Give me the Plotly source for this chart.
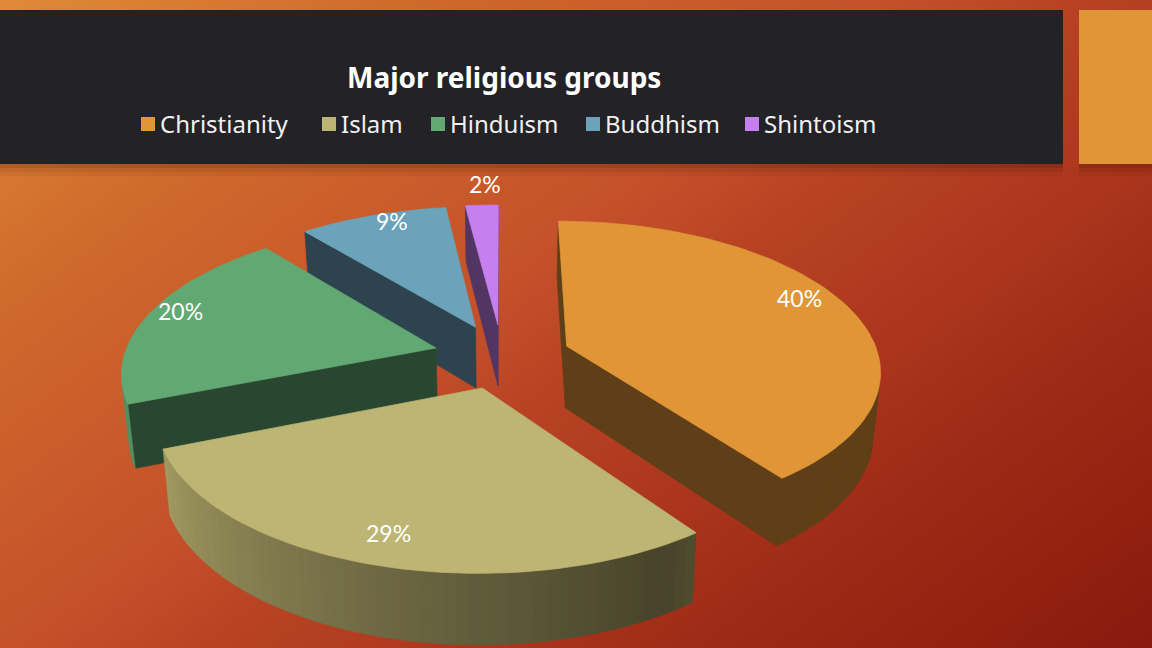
import base64
import numpy as np
import plotly.graph_objects as go

# data
categories = ["Christianity", "Islam", "Hinduism", "Buddhism", "Shintoism"]
values = [40, 29, 20, 9, 2]
colors = ["#E09637", "#BDB573", "#62A873", "#6BA3BA", "#C67FEF"]
title = "Major religious groups"

# tilted pie settings, in screen pixels
CX, CY = 502, 356
R = 312
TILT = 0.47
PERSP = 0.151
DEPTH = 62
TAPER = 0.02
EXPLODE = 0.22

# label and legend placement
label_pos = [(799, 298), (388, 533), (180, 311), (392, 221), (485, 184)]
legend_x = [148, 329, 438, 593, 752]
LEGEND_Y = 124

# wall shading against clockwise angle from the top
shade_deg = [0, 144, 150, 200, 248, 360]
shade_val = [0.42, 0.42, 0.37, 0.6, 0.85, 0.85]


def project(x, y, z):
    s = 1 / (1 - PERSP * y)
    t = 1 - TAPER * z
    return CX + R * x * s * t, CY + R * TILT * y * s * t + DEPTH * z * s


def darker(color, f):
    r, g, b = (int(color[i:i + 2], 16) for i in (1, 3, 5))
    return f"rgb({r * f:.0f},{g * f:.0f},{b * f:.0f})"


def area(pts):
    xs, ys = zip(*pts)
    return sum(xs[i] * ys[(i + 1) % len(xs)] - xs[(i + 1) % len(xs)] * ys[i] for i in range(len(xs)))


def poly(fig, pts, color):
    xs, ys = zip(*pts)
    fig.add_trace(go.Scatter(x=list(xs) + [xs[0]], y=list(ys) + [ys[0]], mode="lines", fill="toself",
                             fillcolor=color, line=dict(color=color, width=0.7),
                             hoverinfo="skip", showlegend=False))


# slices as (start, end) angles
total = sum(values)
edges = np.cumsum([0] + values) / total * 360
slices = []
for i in range(len(values)):
    a0, a1 = edges[i], edges[i + 1]
    mid = np.radians((a0 + a1) / 2)
    slices.append((i, a0, a1, EXPLODE * np.sin(mid), -EXPLODE * np.cos(mid)))

fig = go.Figure()

# back slices first, Islam last because it overlaps Hinduism
for i, a0, a1, ox, oy in sorted(slices, key=lambda s: s[4]):
    color = colors[i]
    deg = np.linspace(a0, a1, max(4, int(a1 - a0) // 2 + 2))
    ax = ox + np.sin(np.radians(deg))
    ay = oy - np.cos(np.radians(deg))

    # flat cut faces, only those that look at the viewer
    for ex, ey, sign in ((ax[0], ay[0], 1), (ax[-1], ay[-1], -1)):
        pts = [project(ox, oy, 0), project(ex, ey, 0), project(ex, ey, 1), project(ox, oy, 1)]
        if sign * area(pts) < 0:
            poly(fig, pts, darker(color, 0.42))

    # outer wall in narrow strips for the gradient, skipping what faces away
    for j in range(len(deg) - 1):
        pts = [project(ax[j], ay[j], 0), project(ax[j + 1], ay[j + 1], 0),
               project(ax[j + 1], ay[j + 1], 1), project(ax[j], ay[j], 1)]
        if area(pts) < 0:
            f = np.interp((deg[j] + deg[j + 1]) / 2, shade_deg, shade_val)
            poly(fig, pts, darker(color, f))

    # top
    top = [project(ox, oy, 0)] + [project(px, py, 0) for px, py in zip(ax, ay)]
    poly(fig, top, color)

# legend swatches
fig.add_trace(go.Scatter(x=legend_x, y=[LEGEND_Y] * len(legend_x), mode="markers", hoverinfo="skip",
                         showlegend=False, marker=dict(symbol="square", size=14, color=colors)))

annotations = [dict(x=504, y=77, text=f"<b>{title}</b>", showarrow=False, xref="x", yref="y",
                    font=dict(size=28, color="#FFFFFF", family="Noto Sans"))]
for name, x in zip(categories, legend_x):
    annotations.append(dict(x=x + 10, y=LEGEND_Y - 1, text=name, showarrow=False, xanchor="left", xref="x", yref="y",
                            font=dict(size=24, color="#F0F0F0", family="Noto Sans")))
for v, (x, y) in zip(values, label_pos):
    annotations.append(dict(x=x, y=y, text=f"{v}%", showarrow=False, xref="x", yref="y",
                            font=dict(size=23, color="#FFFFFF", family="Lato")))

# slide background
svg = """<svg xmlns="http://www.w3.org/2000/svg" width="1152" height="648">
<defs><linearGradient id="g" gradientUnits="userSpaceOnUse" x1="0" y1="0" x2="718" y2="957">
<stop offset="0" stop-color="#E08A38"/><stop offset="0.2" stop-color="#D06A2C"/>
<stop offset="0.45" stop-color="#C4502A"/><stop offset="0.53" stop-color="#B84424"/>
<stop offset="0.69" stop-color="#AA341C"/><stop offset="0.79" stop-color="#9C2A15"/>
<stop offset="1" stop-color="#8A1A0E"/>
</linearGradient></defs><rect width="1152" height="648" fill="url(#g)"/></svg>"""
bg = "data:image/svg+xml;base64," + base64.b64encode(svg.encode()).decode()

shapes = []
for grow, alpha in ((12, 0.06), (8, 0.08), (4, 0.12)):
    shapes.append(dict(type="rect", xref="x", yref="y", x0=0, x1=1063, y0=164, y1=164 + grow, line_width=0,
                       fillcolor=f"rgba(50,10,0,{alpha})", layer="below"))
    shapes.append(dict(type="rect", xref="x", yref="y", x0=1079, x1=1152, y0=164, y1=164 + grow, line_width=0,
                       fillcolor=f"rgba(50,10,0,{alpha})", layer="below"))
shapes.append(dict(type="rect", xref="x", yref="y", x0=0, x1=1063, y0=10, y1=164, line_width=0,
                   fillcolor="#232226", layer="below"))
shapes.append(dict(type="rect", xref="x", yref="y", x0=1079, x1=1152, y0=10, y1=164, line_width=0,
                   fillcolor="#E09637", layer="below"))

fig.update_layout(
    width=1152, height=648, margin=dict(l=0, r=0, t=0, b=0), showlegend=False,
    paper_bgcolor="#A9341A", plot_bgcolor="rgba(0,0,0,0)",
    xaxis=dict(range=[0, 1152], visible=False, fixedrange=True),
    yaxis=dict(range=[648, 0], visible=False, fixedrange=True),
    images=[dict(source=bg, xref="paper", yref="paper", x=0, y=1, sizex=1, sizey=1,
                 sizing="stretch", xanchor="left", yanchor="top", layer="below")],
    shapes=shapes, annotations=annotations,
)

fig.write_html("out.html", config={"displayModeBar": False},
               post_script="document.body.style.margin='0';")
